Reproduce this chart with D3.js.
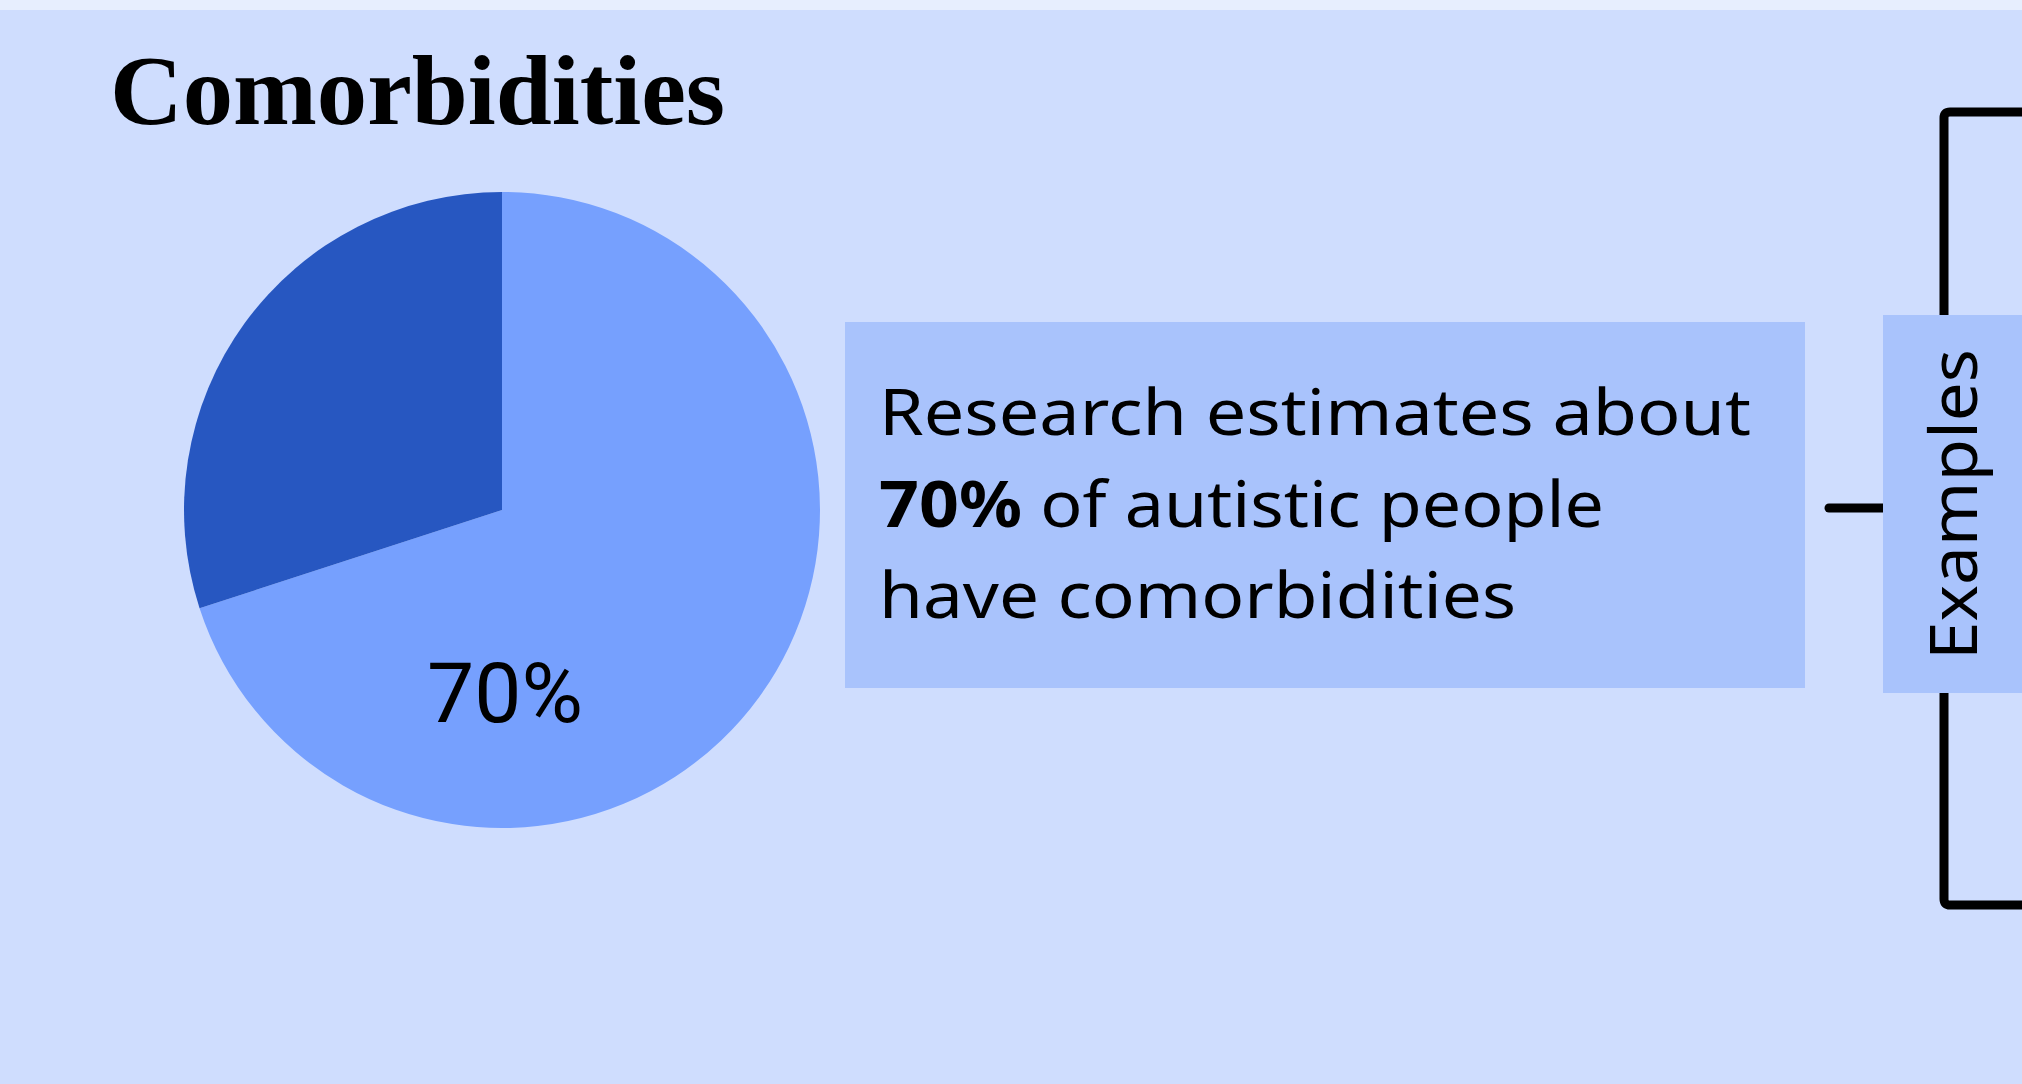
<!DOCTYPE html>
<html>
<head>
<meta charset="utf-8">
<script src="https://cdn.jsdelivr.net/npm/d3@7"></script>
<style>
  html, body { margin: 0; padding: 0; background: #cfddfe; }
  svg { display: block; }
</style>
</head>
<body>
<svg id="chart" width="2022" height="1084"></svg>
<script>
// ---- data ----
const categories = ["Autistic people with comorbidities", "Autistic people without comorbidities"];
const values = [70, 30];
const sliceColors = ["#76a0fe", "#2757c1"];
const titleText = "Comorbidities";
const pieLabel = "70%";
const bodyLines = [
  [{t: "Research estimates about", b: false}],
  [{t: "70%", b: true}, {t: " of autistic people", b: false}],
  [{t: "have comorbidities", b: false}]
];
const sideLabel = "Examples";

// ---- drawing ----
const svg = d3.select("#chart");
const W = 2022, H = 1084;

svg.append("rect").attr("x", 0).attr("y", 0).attr("width", W).attr("height", H).attr("fill", "#cfddfe");
svg.append("rect").attr("x", 0).attr("y", 0).attr("width", W).attr("height", 10).attr("fill", "#e7eefe");

// title
svg.append("text")
  .attr("x", 110).attr("y", 124)
  .attr("font-family", "'Liberation Serif', 'DejaVu Serif', serif")
  .attr("font-weight", 900)
  .attr("font-size", 100)
  .attr("textLength", 615)
  .attr("lengthAdjust", "spacingAndGlyphs")
  .attr("fill", "#000")
  .text(titleText);

// pie
const cx = 502, cy = 510, R = 318;
const pie = d3.pie().sort(null).value(d => d);
const arc = d3.arc().innerRadius(0).outerRadius(R);
const g = svg.append("g").attr("transform", `translate(${cx},${cy})`);
g.selectAll("path")
  .data(pie(values))
  .join("path")
  .attr("d", arc)
  .attr("fill", (d, i) => sliceColors[i]);

g.append("text")
  .attr("x", 3).attr("y", R * 0.667)
  .attr("text-anchor", "middle")
  .attr("font-family", "Roboto, 'Noto Sans', sans-serif")
  .attr("font-size", 84)
  .attr("fill", "#000")
  .text(pieLabel);

// text box
svg.append("rect").attr("x", 845).attr("y", 322).attr("width", 960).attr("height", 366).attr("fill", "#a9c3fc");
const lineY = [435, 527, 618];
const lineW = [872, 725, 637];
bodyLines.forEach((parts, i) => {
  const t = svg.append("text")
    .attr("x", 879).attr("y", lineY[i])
    .attr("font-family", "'Noto Sans', 'Open Sans', sans-serif")
    .attr("font-size", 64)
    .attr("fill", "#000")
    .attr("textLength", lineW[i])
    .attr("lengthAdjust", "spacingAndGlyphs");
  parts.forEach(p => {
    t.append("tspan")
      .attr("font-weight", p.b ? 700 : 400)
      .text(p.t);
  });
});

// connector
svg.append("line")
  .attr("x1", 1829).attr("x2", 1884).attr("y1", 508).attr("y2", 508)
  .attr("stroke", "#000").attr("stroke-width", 9).attr("stroke-linecap", "round");

// bracket
svg.append("path")
  .attr("d", "M 2030 112 L 1950 112 Q 1944 112 1944 118 L 1944 899 Q 1944 905 1950 905 L 2030 905")
  .attr("fill", "none").attr("stroke", "#000").attr("stroke-width", 9);

// examples box
svg.append("rect").attr("x", 1883).attr("y", 315).attr("width", 160).attr("height", 378).attr("fill", "#a9c3fc");
svg.append("text")
  .attr("transform", "translate(1977,504.5) rotate(-90)")
  .attr("text-anchor", "middle")
  .attr("font-family", "'Noto Sans', 'Open Sans', sans-serif")
  .attr("font-size", 65)
  .attr("fill", "#000")
  .attr("textLength", 311)
  .attr("lengthAdjust", "spacingAndGlyphs")
  .text(sideLabel);
</script>
</body>
</html>
